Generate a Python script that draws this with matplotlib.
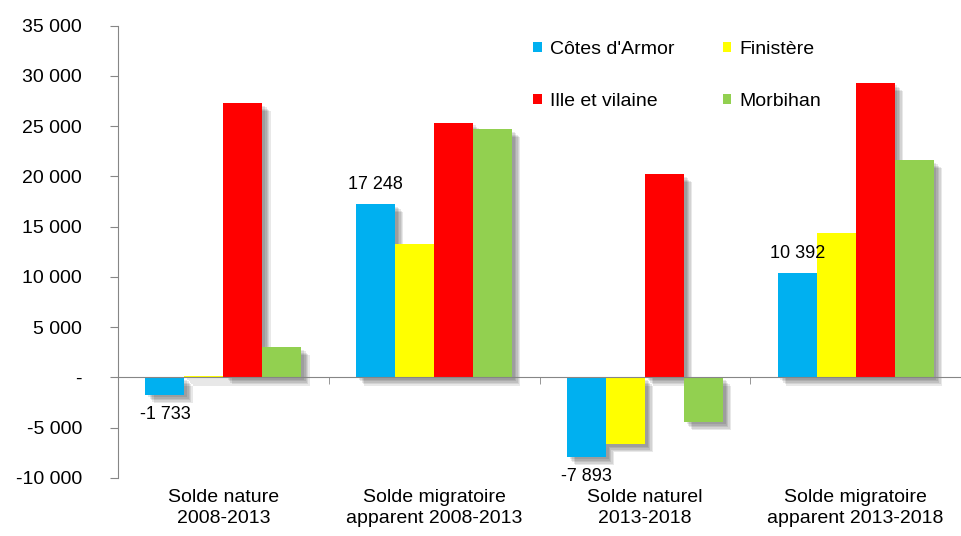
import matplotlib.pyplot as plt
import matplotlib.patheffects as pe
from matplotlib.ticker import FuncFormatter, MultipleLocator, FixedLocator, NullLocator
import matplotlib.transforms as mtransforms
import numpy as np

plt.rcParams['font.family'] = ['Liberation Sans', 'DejaVu Sans']

categories = ["Solde nature\n2008-2013", "Solde migratoire\napparent 2008-2013",
              "Solde naturel\n2013-2018", "Solde migratoire\napparent 2013-2018"]
series = ["Côtes d'Armor", "Finistère", "Ille et vilaine", "Morbihan"]
cotes_armor = [-1733, 17248, -7893, 10392]
finistere = [160, 13260, -6640, 14330]
ille_vilaine = [27290, 25330, 20230, 29310]
morbihan = [3015, 24700, -4420, 21620]
colors = ["#00B0F0", "#FFFF00", "#FF0000", "#92D050"]

values = [cotes_armor, finistere, ille_vilaine, morbihan]


def fmt_num(v):
    if round(v) == 0:
        return "-"
    return f"{v:,.0f}".replace(",", " ")


W, H = 961, 536
fig = plt.figure(figsize=(W / 100, H / 100), dpi=100)
ax = fig.add_axes([118 / W, 1 - 477.8 / H, (W - 118) / W, (477.8 - 25.5) / H])

x = np.arange(len(categories))
bw = 0.185
containers = []
for i, (name, vals) in enumerate(zip(series, values)):
    bc = ax.bar(x + (i - 1.5) * bw, vals, bw, color=colors[i], label=name, zorder=2)
    containers.append(bc)

ax.set_xlim(-0.5, 3.5)
ax.set_ylim(-10000, 35000)
ax.yaxis.set_major_locator(MultipleLocator(5000))
ax.yaxis.set_major_formatter(FuncFormatter(lambda v, p: fmt_num(v)))

grey = "#868686"
for s in ["top", "right"]:
    ax.spines[s].set_visible(False)
ax.spines["left"].set_color(grey)
ax.spines["bottom"].set_color(grey)
ax.spines["bottom"].set_position(("data", 0))
ax.tick_params(axis="y", colors=grey, labelcolor="black", labelsize=14,
               length=6, pad=20)
ax.xaxis.set_major_locator(NullLocator())
ax.xaxis.set_minor_locator(FixedLocator([0.5, 1.5, 2.5]))
ax.tick_params(axis="x", which="minor", colors=grey, length=5, direction="out")

# category labels at the bottom of the plot area
trans = mtransforms.blended_transform_factory(ax.transData, ax.transAxes)
for xi, cat in zip(x, categories):
    ax.annotate(cat, xy=(xi, 0), xycoords=trans, xytext=(0, -8),
                textcoords="offset points", ha="center", va="top", fontsize=14,
                linespacing=1.35)

# legend filled row by row, like the original
order = [0, 2, 1, 3]
handles = [containers[k] for k in order]
labels = [series[k] for k in order]
leg = ax.legend(handles, labels, ncol=2, frameon=False, fontsize=14, loc="upper left",
                bbox_to_anchor=(533 / W, 1 - 41 / H), bbox_transform=fig.transFigure,
                borderpad=0, borderaxespad=0, handlelength=0.45, handleheight=0.45,
                handletextpad=0.4, labelspacing=1.8, columnspacing=2.5)

# soft drop shadow on bars (after legend so handles stay flat)
shadow = [pe.SimplePatchShadow(offset=(d, -d), shadow_rgbFace="black", alpha=0.09)
          for d in (6, 5, 4, 3, 2)] + [pe.Normal()]
for bc in containers:
    for p in bc.patches:
        p.set_path_effects(shadow)

ax.bar_label(containers[0], labels=[fmt_num(v) for v in cotes_armor],
             padding=8, fontsize=13)

fig.savefig("out.png", dpi=100)
